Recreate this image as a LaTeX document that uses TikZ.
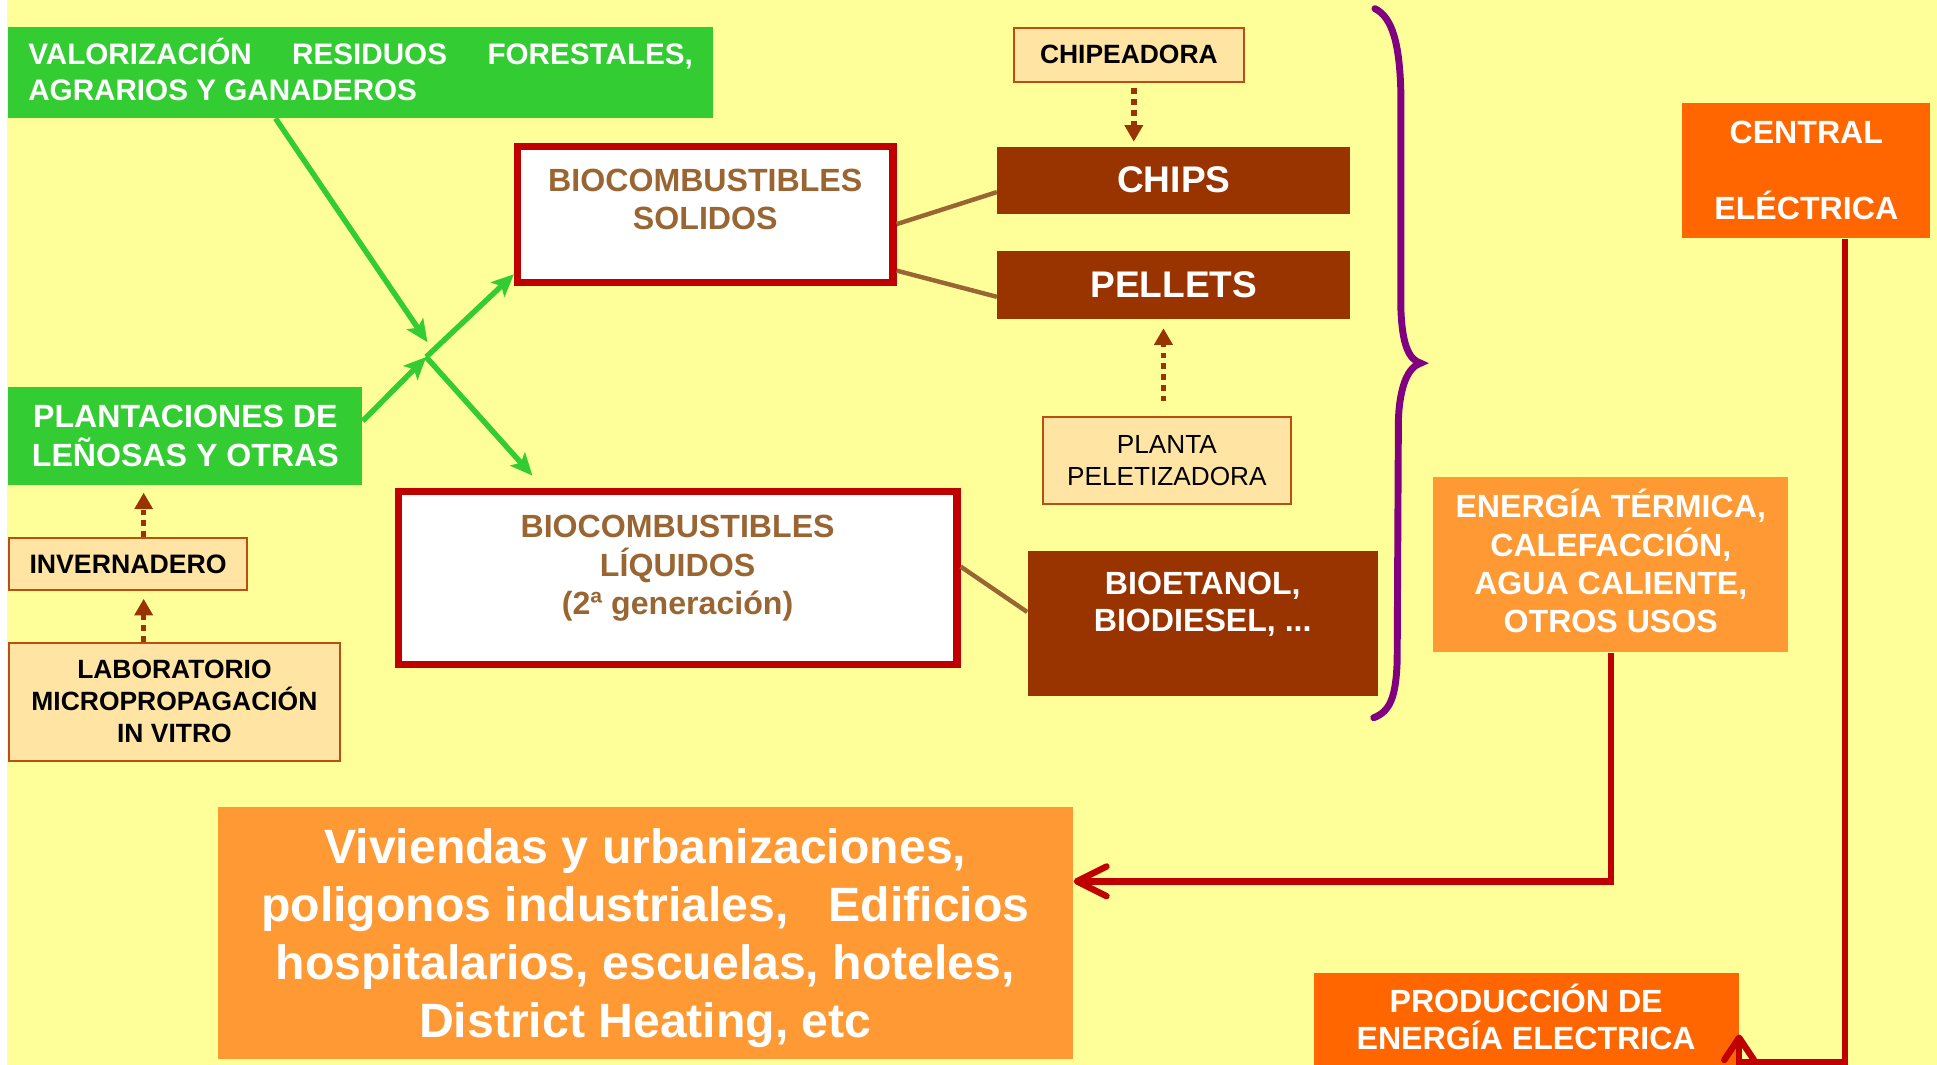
\documentclass[tikz,border=0pt]{standalone}
\usepackage{fontspec}
\setmainfont{Liberation Sans}
\usetikzlibrary{positioning,calc,arrows.meta}
\definecolor{paper}{HTML}{FFFF99}
\definecolor{leaf}{HTML}{33CC33}
\definecolor{rust}{HTML}{993300}
\definecolor{frame}{HTML}{C00000}
\definecolor{wood}{HTML}{996633}
\definecolor{peach}{HTML}{FF9933}
\definecolor{flame}{HTML}{FF6600}
\definecolor{plum}{HTML}{800080}
\definecolor{cream}{HTML}{FFE4A3}
\definecolor{creamline}{HTML}{B8500F}

\begin{document}
\begin{tikzpicture}[x=0.5pt, y=-0.5pt,
  greenbox/.style={fill=leaf, text=white, inner sep=0pt, anchor=north west},
  fuelbox/.style={draw=frame, line width=3pt, fill=white, text=wood, inner sep=0pt, anchor=north west, align=center, font=\fontsize{13}{15.5}\selectfont\bfseries},
  productbox/.style={fill=rust, text=white, inner sep=0pt, anchor=north west, align=center},
  toolbox/.style={fill=cream, draw=creamline, line width=0.8pt, inner sep=0pt, anchor=north west, align=center, font=\fontsize{10.7}{13}\selectfont\bfseries},
  usebox/.style={fill=peach, text=white, inner sep=0pt, anchor=north west, align=center},
  powerbox/.style={fill=flame, text=white, inner sep=0pt, anchor=north west, align=center, font=\fontsize{13}{15}\selectfont\bfseries},
  greenarrow/.style={draw=leaf, line width=2.2pt, -{Stealth[length=9pt,width=8pt,inset=2pt]}},
  dotarrow/.style={draw=rust, line width=2.2pt, dash pattern=on 2.2pt off 2.2pt, -{Triangle[length=6.7pt,width=7.2pt]}},
  link/.style={draw=wood, line width=1.8pt},
  redarrow/.style={draw=frame, line width=2.6pt, -{Straight Barb[length=12pt,width=12pt,round]}},
  brace/.style={draw=plum, line width=2.8pt, line cap=round}
]
\useasboundingbox (0,0) rectangle (1568,862);
\clip (0,0) rectangle (1568,862);
\fill[white] (0,0) rectangle (1568,862);
\fill[paper] (6,0) rectangle (1568,862);

% nodes
\node[greenbox, minimum width=285.5pt, minimum height=36.7pt, align=left, text depth=2.5pt, font=\fontsize{12}{14.5}\selectfont\bfseries] (valor) at (6,21.6)
  {\hbox to 269pt{VALORIZACIÓN\hfill RESIDUOS\hfill FORESTALES,}\\AGRARIOS Y GANADEROS};
\node[greenbox, minimum width=143.25pt, minimum height=39.4pt, align=center, font=\fontsize{13}{15.5}\selectfont\bfseries] (plant) at (6.4,313)
  {PLANTACIONES DE\\LEÑOSAS Y OTRAS};
\node[toolbox, minimum width=96.5pt, minimum height=21.2pt, font=\fontsize{10.8}{13}\selectfont\bfseries] (invern) at (6.4,434.5) {INVERNADERO};
\node[toolbox, minimum width=134pt, minimum height=47.7pt] (labor) at (6.4,519.5) {LABORATORIO\\MICROPROPAGACIÓN\\IN VITRO};

\node[fuelbox, minimum width=151.9pt, minimum height=54.85pt, text depth=12.4pt] (sol) at (416,115.8) {BIOCOMBUSTIBLES\\SOLIDOS};
\node[fuelbox, minimum width=226.1pt, minimum height=69.9pt, text depth=10.7pt] (liq) at (319.4,395) {BIOCOMBUSTIBLES\\LÍQUIDOS\\(2ª generación)};

\node[toolbox, minimum width=93pt, minimum height=21.8pt] (chipea) at (820,21.6) {CHIPEADORA};
\node[productbox, minimum width=142.8pt, minimum height=27.3pt, font=\fontsize{15}{18}\selectfont\bfseries] (chips) at (807,118.2) {CHIPS};
\node[productbox, minimum width=142.8pt, minimum height=27.3pt, font=\fontsize{15}{18}\selectfont\bfseries] (pellets) at (807,203) {PELLETS};
\node[toolbox, minimum width=100.1pt, minimum height=35.1pt, font=\fontsize{10.6}{13}\selectfont\mdseries, text=black] (planta) at (843.7,336.8) {PLANTA\\PELETIZADORA};
\node[productbox, minimum width=141.7pt, minimum height=58.5pt, text depth=17.5pt, font=\fontsize{13}{15}\selectfont\bfseries] (bioet) at (831.5,446) {BIOETANOL,\\BIODIESEL, ...};

\node[powerbox, minimum width=100.3pt, minimum height=54.8pt, font=\fontsize{13}{31}\selectfont\bfseries] (central) at (1361.5,82.8) {CENTRAL\\ELÉCTRICA};
\node[usebox, minimum width=143.5pt, minimum height=70.8pt, text depth=3pt, font=\fontsize{13}{15.5}\selectfont\bfseries] (energia) at (1160,386)
  {ENERGÍA TÉRMICA,\\CALEFACCIÓN,\\AGUA CALIENTE,\\OTROS USOS};
\node[powerbox, minimum width=172pt, minimum height=39pt, text depth=3pt] (prod) at (1063,787) {PRODUCCIÓN DE\\ENERGÍA ELECTRICA};
\node[usebox, minimum width=346.3pt, minimum height=101.8pt, text depth=0pt, font=\fontsize{19.5}{23.4}\selectfont\bfseries] (viv) at (175.7,653)
  {Viviendas y urbanizaciones,\\poligonos industriales,\ \ \ Edificios\\hospitalarios, escuelas, hoteles,\\District Heating, etc};

% brace
\draw[brace] (1113,7) .. controls (1127,14) and (1133,35) .. (1134,75)
  -- (1134,250) .. controls (1135,278) and (1140,291) .. (1150,294)
  .. controls (1140,297) and (1133,312) .. (1132,340)
  -- (1131,535) .. controls (1130,565) and (1125,576) .. (1112,581);

% arrows
\coordinate (hub) at (345,289);
\coordinate (hubin) at (346,277);
\coordinate (liqin) at (431,385);
\draw[greenarrow] ($(valor.south west)+(217,0)$) -- (hubin);
\draw[greenarrow] ([yshift=6pt]plant.east) -- (hub);
\draw[greenarrow] (hub) -- ([yshift=4.75pt]sol.south west);
\draw[greenarrow] (hub) -- (liqin);

\draw[link] ([yshift=-3.9pt]sol.east) -- ([yshift=-4.8pt]chips.west);
\draw[link] ([yshift=-22.7pt]sol.east) -- ([yshift=-4.8pt]pellets.west);
\draw[link] ([yshift=4.65pt]liq.east) -- ([yshift=4.75pt]bioet.west);

\draw[dotarrow, shorten <=2.35pt, shorten >=1.75pt] ([xshift=2pt]chipea.south) -- ([xshift=2pt]chipea.south |- chips.north);
\draw[dotarrow, shorten <=5.9pt, shorten >=3.65pt] ([xshift=-1.4pt]planta.north) -- ([xshift=-1.4pt]planta.north |- pellets.south);
\draw[dotarrow, shorten >=3.1pt] ([xshift=6.3pt]invern.north) -- ([xshift=6.3pt]invern.north |- plant.south);
\draw[dotarrow, shorten >=3.1pt] ([xshift=-12.45pt]labor.north) -- ([xshift=-12.45pt]labor.north |- invern.south);

\draw[redarrow] (energia.south) |- ([yshift=20.9pt]viv.east);
\draw[redarrow, -{Straight Barb[length=9pt,width=12pt,round]}] ([xshift=15.7pt]central.south) |- ([yshift=-16.75pt]prod.east) -- ([yshift=-5.5pt]prod.east);
\end{tikzpicture}
\end{document}
